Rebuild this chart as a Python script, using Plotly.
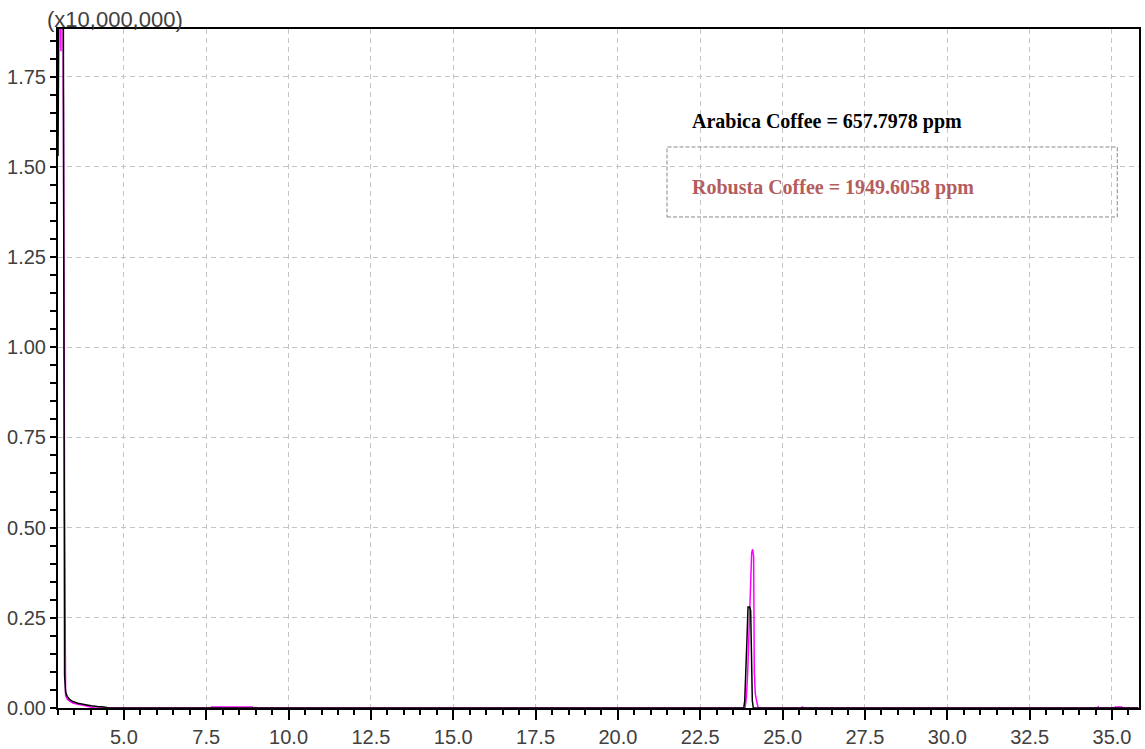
import plotly.graph_objects as go

# Retention time (min) and intensity (x10,000,000)
rt_arabica = [3.00, 3.06, 3.15, 3.18, 3.20, 3.23, 3.28, 3.35, 3.45, 3.60, 3.80, 4.00,
              4.20, 4.40, 4.55, 23.82, 23.85, 23.88, 23.92, 23.95, 24.00, 24.03,
              24.06, 24.08, 24.11, 35.80]
int_arabica = [1.53, 2.50, 2.50, 0.60, 0.09, 0.045, 0.032, 0.024, 0.018, 0.013, 0.009,
               0.006, 0.004, 0.003, 0.0, 0.0, 0.02, 0.083, 0.197, 0.28, 0.28, 0.27,
               0.10, 0.02, 0.0, 0.0]

rt_robusta = [3.00, 3.08, 3.085, 3.09, 3.10, 3.15, 3.16, 3.165, 3.20, 3.205, 3.21,
              3.23, 3.28, 3.35, 3.45, 3.60, 3.80, 3.95, 4.10, 7.65, 7.66, 8.90, 8.91,
              23.86, 23.90, 23.94, 23.97, 24.00, 24.03, 24.06, 24.09, 24.12, 24.14,
              24.17, 24.21, 24.26, 25.58, 25.60, 25.62, 34.56, 34.58, 34.60,
              35.08, 35.10, 35.30, 35.32, 35.80]
int_robusta = [2.50, 2.50, 1.845, 1.82, 2.50, 2.50, 1.72, 1.66, 0.55, 0.25, 0.08,
               0.035, 0.025, 0.019, 0.014, 0.010, 0.007, 0.004, 0.0, 0.0, 0.003,
               0.003, 0.0, 0.0, 0.03, 0.10, 0.18, 0.30, 0.40, 0.43, 0.44, 0.42, 0.10,
               0.04, 0.02, 0.0, 0.0, 0.004, 0.0, 0.0, 0.003, 0.0,
               0.0, 0.003, 0.003, 0.0, 0.0]

x_ticks = [5.0, 7.5, 10.0, 12.5, 15.0, 17.5, 20.0, 22.5, 25.0, 27.5, 30.0, 32.5, 35.0]
y_ticks = [0.00, 0.25, 0.50, 0.75, 1.00, 1.25, 1.50, 1.75]

label_arabica = "Arabica Coffee = 657.7978 ppm"
label_robusta = "Robusta Coffee = 1949.6058 ppm"
scale_label = "(x10,000,000)"

fig = go.Figure()
fig.add_trace(go.Scatter(x=rt_robusta, y=int_robusta, mode="lines",
                         line=dict(color="#ff00ff", width=1.5), name="Robusta"))
fig.add_trace(go.Scatter(x=rt_arabica, y=int_arabica, mode="lines",
                         line=dict(color="#000000", width=1.5), name="Arabica"))

tickfont = dict(family="Liberation Sans, Arial, sans-serif", size=20, color="#404040")

fig.update_layout(
    width=1145, height=749,
    margin=dict(l=58, r=6, t=29, b=41, autoexpand=False),
    paper_bgcolor="white", plot_bgcolor="white",
    showlegend=False,
    xaxis=dict(range=[3.0, 35.82], tickvals=x_ticks,
               ticktext=[f"{v:.1f}" for v in x_ticks], automargin=False,
               ticks="outside", ticklen=10, tickwidth=1.5, tickcolor="black",
               showline=True, linecolor="black", linewidth=2, mirror=True,
               showgrid=True, gridcolor="#c4c4c4", gridwidth=1, griddash="5px,4px",
               zeroline=False, tickfont=tickfont,
               minor=dict(dtick=0.5, tick0=0, ticks="outside", ticklen=5,
                          tickcolor="black", tickwidth=1.5, showgrid=False)),
    yaxis=dict(range=[0, 1.882], tickvals=y_ticks,
               ticktext=[f"{v:.2f}" for v in y_ticks], automargin=False,
               ticks="outside", ticklen=6, tickwidth=1.5, tickcolor="black",
               showline=True, linecolor="black", linewidth=2, mirror=True,
               showgrid=True, gridcolor="#c4c4c4", gridwidth=1, griddash="5px,4px",
               zeroline=False, tickfont=tickfont,
               minor=dict(dtick=0.05, tick0=0, ticks="outside", ticklen=6,
                          tickcolor="black", tickwidth=1.5, showgrid=False)),
)

fig.add_shape(type="rect", xref="x", yref="y", x0=21.49, x1=35.16, y0=1.361, y1=1.555,
              line=dict(color="#888888", width=1, dash="4px,2px"), fillcolor="rgba(0,0,0,0)")

fig.add_annotation(x=22.19, y=1.627, xref="x", yref="y", text=f"<b>{label_arabica}</b>",
                   showarrow=False, xanchor="left", yanchor="middle",
                   font=dict(family="Liberation Serif, Times New Roman, serif", size=20, color="#000000"))
fig.add_annotation(x=22.19, y=1.444, xref="x", yref="y", text=f"<b>{label_robusta}</b>",
                   showarrow=False, xanchor="left", yanchor="middle",
                   font=dict(family="Liberation Serif, Times New Roman, serif", size=20, color="#b55d5d"))
fig.add_annotation(x=0, y=1, xref="paper", yref="paper", text=scale_label,
                   showarrow=False, xanchor="left", yanchor="middle", xshift=-13, yshift=10,
                   font=dict(family="Liberation Sans, Arial, sans-serif", size=22, color="#404040"))

fig.write_html("out.html")
